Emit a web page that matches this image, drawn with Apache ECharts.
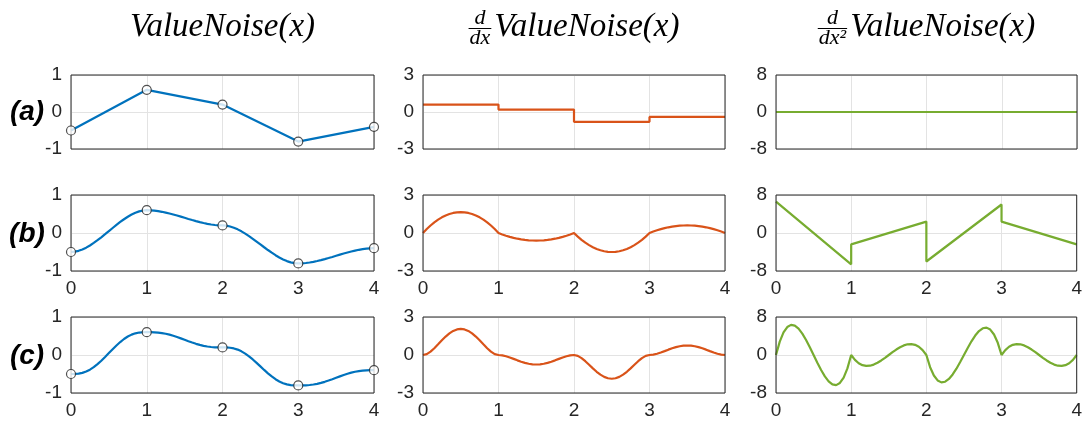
<!DOCTYPE html>
<html>
<head>
<meta charset="utf-8">
<script src="https://cdn.jsdelivr.net/npm/echarts@6/dist/echarts.min.js"></script>
<style>
html,body{margin:0;padding:0;background:#fff;}
#chart{width:1085px;height:421px;}
</style>
</head>
<body>
<div id="chart"></div>
<script>
// ---------- data ----------
const knotX = [0, 1, 2, 3, 4];
const knotValues = [-0.5, 0.6, 0.2, -0.8, -0.4];

const fineX = [0, 0.05, 0.1, 0.15, 0.2, 0.25, 0.3, 0.35, 0.4, 0.45, 0.5, 0.55, 0.6, 0.65, 0.7, 0.75, 0.8, 0.85, 0.9, 0.95,
  1, 1.05, 1.1, 1.15, 1.2, 1.25, 1.3, 1.35, 1.4, 1.45, 1.5, 1.55, 1.6, 1.65, 1.7, 1.75, 1.8, 1.85, 1.9, 1.95,
  2, 2.05, 2.1, 2.15, 2.2, 2.25, 2.3, 2.35, 2.4, 2.45, 2.5, 2.55, 2.6, 2.65, 2.7, 2.75, 2.8, 2.85, 2.9, 2.95,
  3, 3.05, 3.1, 3.15, 3.2, 3.25, 3.3, 3.35, 3.4, 3.45, 3.5, 3.55, 3.6, 3.65, 3.7, 3.75, 3.8, 3.85, 3.9, 3.95, 4];

// (b) cubic value noise
const cubicNoise = [-0.5, -0.492, -0.469, -0.433, -0.386, -0.328, -0.262, -0.19, -0.113, -0.032, 0.05, 0.132, 0.213, 0.29, 0.362, 0.428, 0.486, 0.533, 0.569, 0.592, 0.6,
  0.597, 0.589, 0.576, 0.558, 0.538, 0.514, 0.487, 0.459, 0.43, 0.4, 0.37, 0.341, 0.313, 0.286, 0.263, 0.242, 0.224, 0.211, 0.203, 0.2,
  0.193, 0.172, 0.139, 0.096, 0.044, -0.016, -0.082, -0.152, -0.225, -0.3, -0.375, -0.448, -0.518, -0.584, -0.644, -0.696, -0.739, -0.772, -0.793, -0.8,
  -0.797, -0.789, -0.776, -0.758, -0.738, -0.714, -0.687, -0.659, -0.63, -0.6, -0.57, -0.541, -0.513, -0.486, -0.463, -0.442, -0.424, -0.411, -0.403, -0.4];
// (c) quintic value noise
const quinticNoise = [-0.5, -0.499, -0.491, -0.471, -0.436, -0.386, -0.321, -0.241, -0.151, -0.052, 0.05, 0.152, 0.251, 0.341, 0.421, 0.486, 0.536, 0.571, 0.591, 0.599, 0.6,
  0.6, 0.597, 0.589, 0.577, 0.559, 0.535, 0.506, 0.473, 0.437, 0.4, 0.363, 0.327, 0.294, 0.265, 0.241, 0.223, 0.211, 0.203, 0.2, 0.2,
  0.199, 0.191, 0.173, 0.142, 0.096, 0.037, -0.035, -0.117, -0.207, -0.3, -0.393, -0.483, -0.565, -0.637, -0.696, -0.742, -0.773, -0.791, -0.799, -0.8,
  -0.8, -0.797, -0.789, -0.777, -0.759, -0.735, -0.706, -0.673, -0.637, -0.6, -0.563, -0.527, -0.494, -0.465, -0.441, -0.423, -0.411, -0.403, -0.4, -0.4];

// first derivative
const linearSlope = [0.6, 0.2, -0.8, -0.4, -0.4];
const cubicSlope = [0, 0.314, 0.594, 0.842, 1.056, 1.238, 1.386, 1.502, 1.584, 1.634, 1.65, 1.634, 1.584, 1.502, 1.386, 1.238, 1.056, 0.842, 0.594, 0.314, 0,
  -0.114, -0.216, -0.306, -0.384, -0.45, -0.504, -0.546, -0.576, -0.594, -0.6, -0.594, -0.576, -0.546, -0.504, -0.45, -0.384, -0.306, -0.216, -0.114, 0,
  -0.285, -0.54, -0.765, -0.96, -1.125, -1.26, -1.365, -1.44, -1.485, -1.5, -1.485, -1.44, -1.365, -1.26, -1.125, -0.96, -0.765, -0.54, -0.285, 0,
  0.114, 0.216, 0.306, 0.384, 0.45, 0.504, 0.546, 0.576, 0.594, 0.6, 0.594, 0.576, 0.546, 0.504, 0.45, 0.384, 0.306, 0.216, 0.114, 0];
const quinticSlope = [0, 0.074, 0.267, 0.536, 0.845, 1.16, 1.455, 1.708, 1.901, 2.021, 2.063, 2.021, 1.901, 1.708, 1.455, 1.16, 0.845, 0.536, 0.267, 0.074, 0,
  -0.027, -0.097, -0.195, -0.307, -0.422, -0.529, -0.621, -0.691, -0.735, -0.75, -0.735, -0.691, -0.621, -0.529, -0.422, -0.307, -0.195, -0.097, -0.027, 0,
  -0.068, -0.243, -0.488, -0.768, -1.055, -1.323, -1.553, -1.728, -1.838, -1.875, -1.838, -1.728, -1.553, -1.323, -1.055, -0.768, -0.488, -0.243, -0.068, 0,
  0.027, 0.097, 0.195, 0.307, 0.422, 0.529, 0.621, 0.691, 0.735, 0.75, 0.735, 0.691, 0.621, 0.529, 0.422, 0.307, 0.195, 0.097, 0.027, 0];

// second derivative
const linearCurv = [0, 0, 0, 0, 0];
const jumpX = [0, 1, 1, 2, 2, 3, 3, 4];
const cubicCurv = [6.6, -6.6, -2.4, 2.4, -6, 6, 2.4, -2.4];
const quinticCurv = [0, 2.822, 4.752, 5.891, 6.336, 6.188, 5.544, 4.505, 3.168, 1.634, 0, -1.634, -3.168, -4.505, -5.544, -6.188, -6.336, -5.891, -4.752, -2.822, 0,
  -1.026, -1.728, -2.142, -2.304, -2.25, -2.016, -1.638, -1.152, -0.594, 0, 0.594, 1.152, 1.638, 2.016, 2.25, 2.304, 2.142, 1.728, 1.026, 0,
  -2.565, -4.32, -5.355, -5.76, -5.625, -5.04, -4.095, -2.88, -1.485, 0, 1.485, 2.88, 4.095, 5.04, 5.625, 5.76, 5.355, 4.32, 2.565, 0,
  1.026, 1.728, 2.142, 2.304, 2.25, 2.016, 1.638, 1.152, 0.594, 0, -0.594, -1.152, -1.638, -2.016, -2.25, -2.304, -2.142, -1.728, -1.026, 0];

const xTicks = [0, 1, 2, 3, 4];
const yTicks = [[-1, 0, 1], [-3, 0, 3], [-8, 0, 8]];
const rowLabels = ['(a)', '(b)', '(c)'];
const colTitle = 'ValueNoise(x)';

// ---------- layout & style ----------
const colors = ['#0072BD', '#D95319', '#77AC30'];
const cols = [{left: 71, width: 303}, {left: 423, width: 302}, {left: 776, width: 301}];
const rows = [{top: 75, height: 74}, {top: 195, height: 76}, {top: 317, height: 76}];
const axisColor = '#262626';
const gridColor = '#e3e3e3';
const tickFont = 'Liberation Sans';
const serif = 'Liberation Serif';

function pairs(xs, ys) { return xs.map((x, i) => [x, ys[i]]); }

const cellData = [
  [pairs(knotX, knotValues), pairs(knotX, linearSlope), pairs(knotX, linearCurv)],
  [pairs(fineX, cubicNoise), pairs(fineX, cubicSlope), pairs(jumpX, cubicCurv)],
  [pairs(fineX, quinticNoise), pairs(fineX, quinticSlope), pairs(fineX, quinticCurv)]
];

const grids = [], xAxes = [], yAxes = [], series = [];
let idx = 0;
for (let r = 0; r < 3; r++) {
  for (let c = 0; c < 3; c++) {
    grids.push({left: cols[c].left, width: cols[c].width, top: rows[r].top, height: rows[r].height,
      show: true, borderColor: axisColor, borderWidth: 1, backgroundColor: 'transparent', z: 3, containLabel: false});
    xAxes.push({type: 'value', gridIndex: idx, min: xTicks[0], max: xTicks[xTicks.length - 1], interval: 1,
      axisLine: {show: false}, axisTick: {show: false},
      axisLabel: {show: r > 0, color: axisColor, fontSize: 19, fontFamily: tickFont, margin: 8},
      splitLine: {show: true, lineStyle: {color: gridColor, width: 1}}});
    const yt = yTicks[c];
    yAxes.push({type: 'value', gridIndex: idx, min: yt[0], max: yt[2], interval: yt[2],
      axisLine: {show: false}, axisTick: {show: false},
      axisLabel: {show: true, color: axisColor, fontSize: 19, fontFamily: tickFont, margin: 9},
      splitLine: {show: true, lineStyle: {color: gridColor, width: 1}}});
    const s = {type: 'line', xAxisIndex: idx, yAxisIndex: idx, data: cellData[r][c],
      showSymbol: false, symbol: 'none', lineStyle: {color: colors[c], width: 2.2}, z: 2, silent: true};
    if (r === 0 && c === 1) s.step = 'end';
    series.push(s);
    if (c === 0) {
      series.push({type: 'scatter', xAxisIndex: idx, yAxisIndex: idx, data: pairs(knotX, knotValues),
        symbol: 'circle', symbolSize: 9,
        itemStyle: {color: '#ffffff', borderColor: '#262626', borderWidth: 1.2}, z: 10, silent: true});
    }
    idx++;
  }
}

// ---------- titles ----------
const titleSize = 33, fracSize = 22;
const mctx = document.createElement('canvas').getContext('2d');
function tw(size, t) { mctx.font = 'italic ' + size + 'px "' + serif + '"'; return mctx.measureText(t).width; }
const mainW = tw(titleSize, colTitle);
const graphics = [];
const titleY = 27;
function txt(x, y, t, size, align) {
  return {type: 'text', x: x, y: y,
    style: {text: t, fontFamily: serif, fontStyle: 'italic', fontSize: size, fill: '#000', align: align, verticalAlign: 'middle'}};
}
// column 1
graphics.push(txt(cols[0].left + cols[0].width / 2, titleY, colTitle, titleSize, 'center'));
// columns 2 and 3 with fractions
[['d', 'dx'], ['d', 'dx\u00B2']].forEach((fr, k) => {
  const col = cols[k + 1];
  const center = col.left + col.width / 2;
  const fw = Math.max(tw(fracSize, fr[0]), tw(fracSize, fr[1])) + 2;
  const gap = 3;
  const total = fw + gap + mainW;
  const x0 = center - total / 2;
  const fcx = x0 + fw / 2;
  graphics.push(txt(fcx, 18, fr[0], fracSize, 'center'));
  graphics.push({type: 'line', shape: {x1: x0, y1: 28.5, x2: x0 + fw, y2: 28.5}, style: {stroke: '#000', lineWidth: 1}});
  graphics.push(txt(fcx, 38, fr[1], fracSize, 'center'));
  graphics.push(txt(x0 + fw + gap, titleY, colTitle, titleSize, 'left'));
});
// row labels
const rowLabelY = [112, 234, 356];
rowLabels.forEach((t, r) => {
  graphics.push({type: 'text', x: 27, y: rowLabelY[r],
    style: {text: t, fontFamily: 'Liberation Sans', fontStyle: 'italic', fontWeight: 'bold', fontSize: 28, fill: '#000', align: 'center', verticalAlign: 'middle'}});
});

const chart = echarts.init(document.getElementById('chart'), null, {renderer: 'canvas'});
chart.setOption({
  animation: false,
  backgroundColor: '#ffffff',
  grid: grids,
  xAxis: xAxes,
  yAxis: yAxes,
  series: series,
  graphic: graphics
});
</script>
</body>
</html>
